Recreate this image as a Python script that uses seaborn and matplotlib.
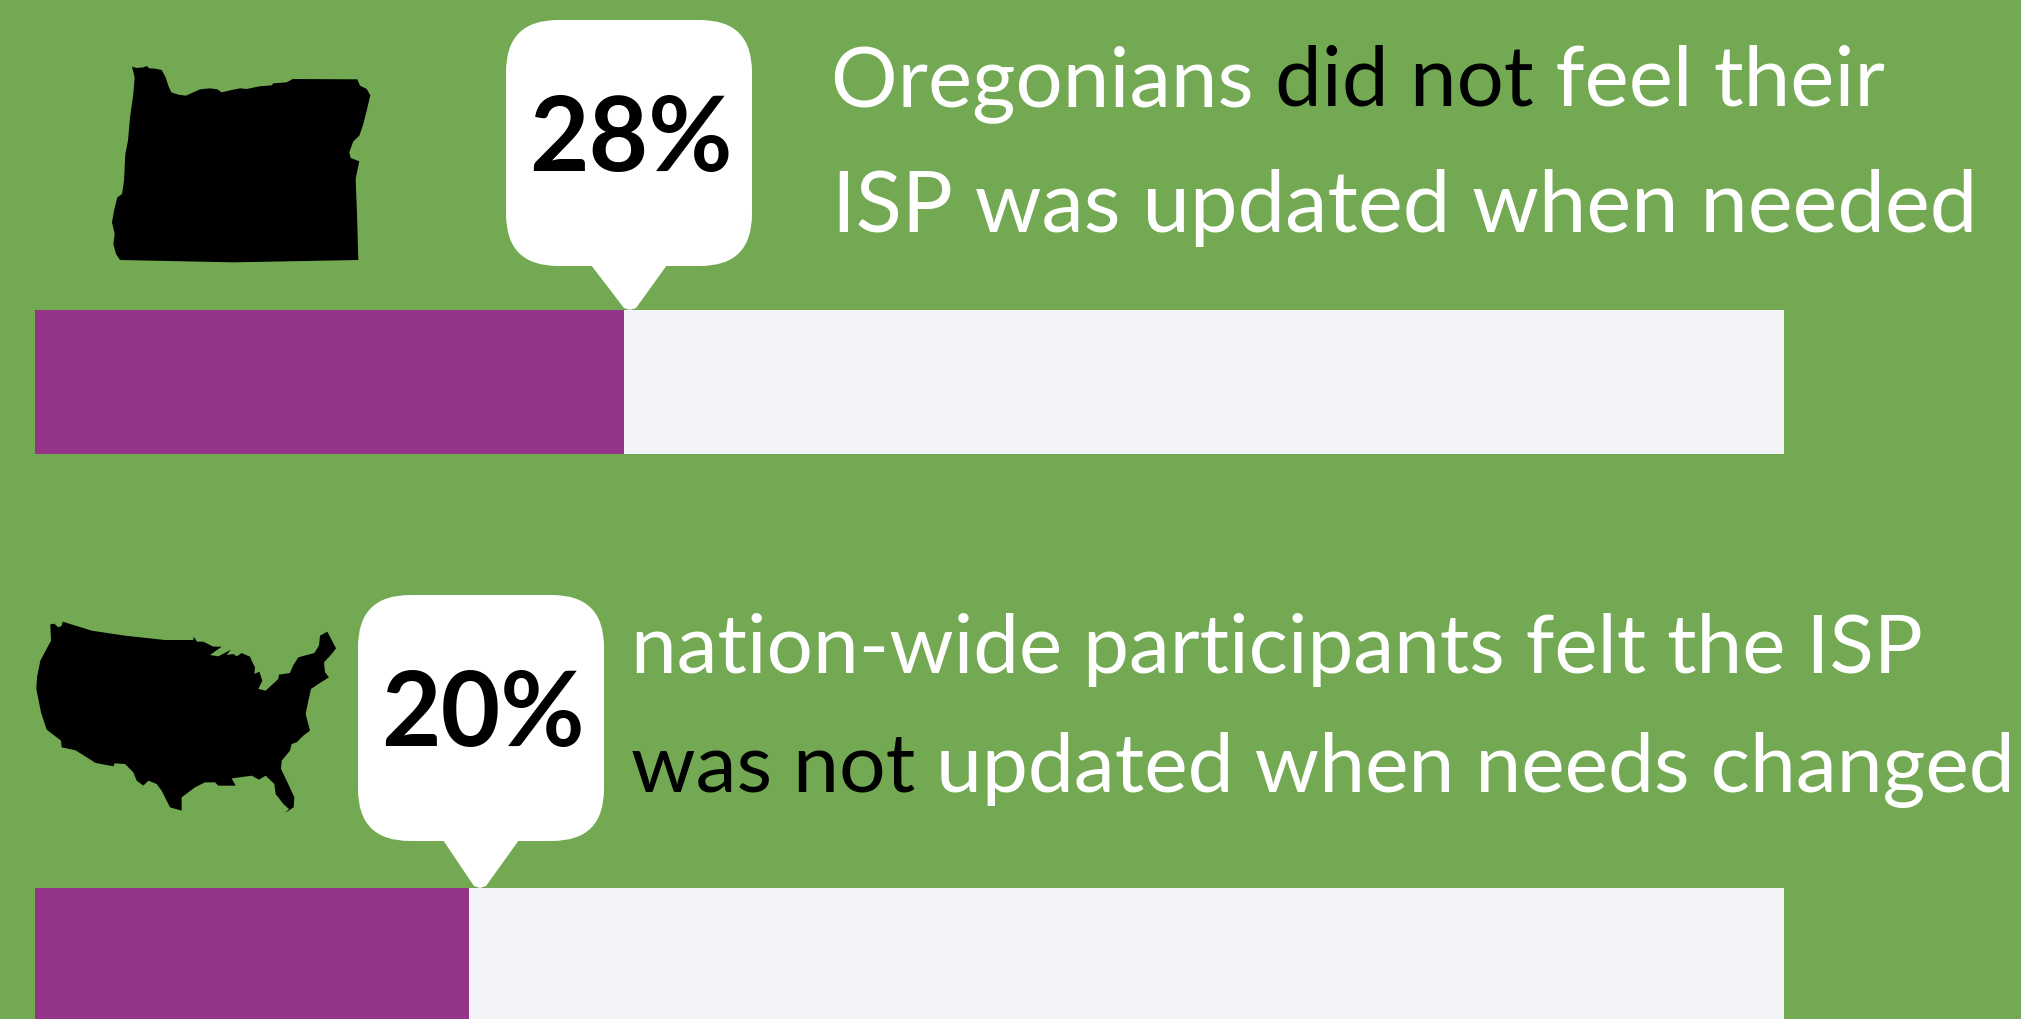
import matplotlib
matplotlib.use("Agg")
import matplotlib.pyplot as plt
from matplotlib.patches import FancyBboxPatch, Polygon
import seaborn as sns
import pandas as pd

# ---- data -------------------------------------------------------------
groups = ["Oregon", "Nation-wide"]
percent_labels = ["28%", "20%"]
fill_lengths = [33.7, 24.8]      # purple length as drawn, share of the pale track
track_lengths = [100, 100]

line_segments = [
    [("Oregonians ", "#ffffff"), ("did not", "#000000"), (" feel their", "#ffffff")],
    [("ISP was updated when needed", "#ffffff")],
    [("nation-wide participants felt the ISP", "#ffffff")],
    [("was not", "#000000"), (" updated when needs changed", "#ffffff")],
]

# ---- colours / layout --------------------------------------------------
BG, PURPLE, TRACK = "#74A953", "#94358A", "#F3F4F8"
W, H = 2021, 1020
FONT = "Lato"
sns.set_theme(style="white")
plt.rcParams["font.family"] = [FONT, "DejaVu Sans"]

fig = plt.figure(figsize=(W / 100, H / 100), dpi=100, facecolor=BG)

# bars
ax = fig.add_axes([0, 0, 1, 1])
df = pd.DataFrame({"group": groups, "fill": fill_lengths, "track": track_lengths})
sns.barplot(data=df, x="track", y="group", orient="h", color=TRACK, saturation=1,
            width=144 / 578, linewidth=0, ax=ax)
sns.barplot(data=df, x="fill", y="group", orient="h", color=PURPLE, saturation=1,
            width=144 / 578, linewidth=0, ax=ax)
x0, per = 35, (1783.5 - 35) / 100
ax.set_xlim(-x0 / per, (W - x0) / per)
y0, gap = 383, 578
ax.set_ylim((H - y0) / gap, -y0 / gap)
ax.axis("off")

# overlay in pixel units for icons, callouts, text
ov = fig.add_axes([0, 0, 1, 1])
ov.set_xlim(0, W)
ov.set_ylim(H, 0)
ov.axis("off")
ov.patch.set_alpha(0)

# silhouettes: outlines read in crop coordinates
oregon = [(96,38),(110,42),(130,40),(140,36),(148,43),(165,44),(185,48),(197,70),(205,95),(214,115),(235,122),(258,125),(280,115),(300,106),(330,103),(352,106),(365,115),(400,107),(420,103),(440,105),(478,97),(515,94),(520,88),(560,85),(578,75),(772,76),(780,95),(800,105),(811,124),(800,170),(790,210),(778,245),(760,262),(748,295),(752,312),(778,322),(772,350),(767,375),(771,480),(775,618),(400,625),(60,618),(48,600),(40,570),(44,540),(36,505),(42,470),(52,430),(66,420),(72,380),(76,300),(84,260),(90,190),(100,120),(104,70)]
usa = [(76,46),(88,44),(100,55),(110,50),(113,38),(200,65),(300,80),(420,93),(505,93),(506,83),(516,98),(535,98),(565,113),(590,113),(555,138),(580,142),(618,122),(605,138),(625,135),(635,142),(650,132),(675,143),(680,155),(690,175),(688,195),(703,188),(712,215),(700,240),(722,245),(760,210),(762,197),(795,192),(804,170),(820,145),(868,132),(882,110),(885,80),(907,68),(933,118),(920,135),(897,160),(900,190),(912,205),(880,225),(858,240),(850,275),(842,315),(855,365),(835,380),(815,400),(800,405),(795,425),(770,455),(768,480),(785,515),(808,565),(806,595),(780,612),(792,600),(775,585),(752,555),(748,525),(722,500),(702,512),(680,500),(645,505),(620,508),(632,530),(580,530),(570,520),(540,520),(510,535),(470,565),(470,605),(435,595),(410,545),(395,525),(370,515),(355,530),(335,515),(325,490),(300,465),(268,463),(266,472),(212,462),(152,424),(110,415),(108,395),(65,362),(48,310),(34,240),(36,205),(46,155),(78,95)]
ov.add_patch(Polygon([(100 + x / 3, 55 + y / 3) for x, y in oregon], closed=True, fc="#000000", ec="none"))
ov.add_patch(Polygon([(25 + x / 3, 610 + y / 3) for x, y in usa], closed=True, fc="#000000", ec="none"))

# callouts
def callout(left, top, size, tail_l, tail_r, tip_x, tip_y, label, tx, base):
    r = 52
    ov.add_patch(FancyBboxPatch((left + r, top + r), size - 2 * r, size - 2 * r,
                                boxstyle=f"round,pad={r},rounding_size={r}", fc="#ffffff", ec="none"))
    ov.add_patch(Polygon([(tail_l, top + size - 1), (tail_r, top + size - 1), (tip_x + 6, tip_y - 2),
                          (tip_x, tip_y), (tip_x - 6, tip_y - 2)], closed=True, fc="#ffffff", ec="none"))
    ov.text(tx, base, label, color="#000000", fontsize=74, fontweight="bold", ha="center", va="baseline")

callout(506, 21, 246, 591, 667, 630, 311, percent_labels[0], 631, 171)
callout(358, 596, 246, 443, 519, 480, 889, percent_labels[1], 483, 746)

# multi-colour text lines
renderer = fig.canvas.get_renderer()
def text_w(s, fs):
    t = ov.text(0, 0, s + "|", fontsize=fs, family=FONT)
    a = t.get_window_extent(renderer).width
    t.set_text("|")
    b = t.get_window_extent(renderer).width
    t.remove()
    return a - b

def line(segs, x, base, target):
    full = "".join(s for s, _ in segs)
    fs = 64 * target / text_w(full, 64)
    prefix = ""
    for s, c in segs:
        ov.text(x + text_w(prefix, fs), base, s, color=c, fontsize=fs, family=FONT, va="baseline", ha="left")
        prefix += s

line(line_segments[0], 831, 106, 1052)
line(line_segments[1], 832, 232, 1145)
line(line_segments[2], 631, 673, 1291)
line(line_segments[3], 631, 792, 1384)

fig.savefig("out.png", dpi=100, facecolor=BG)
